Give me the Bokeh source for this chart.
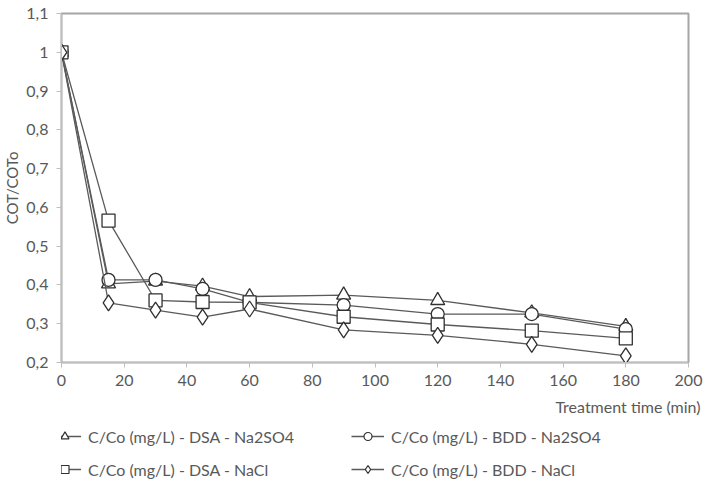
from bokeh.plotting import figure
from bokeh.layouts import column
from bokeh.models import Legend, LegendItem, FixedTicker, Range1d, Title
from bokeh.embed import file_html
from bokeh.resources import INLINE

# Treatment time (min)
time_min = [0, 15, 30, 45, 60, 90, 120, 150, 180]

# COT/COT0 for each electrode / electrolyte combination
dsa_na2so4 = [1.0, 0.403, 0.41, 0.397, 0.37, 0.374, 0.36, 0.328, 0.293]
bdd_na2so4 = [1.0, 0.413, 0.413, 0.39, 0.355, 0.348, 0.325, 0.325, 0.286]
dsa_nacl = [1.0, 0.566, 0.36, 0.356, 0.355, 0.318, 0.298, 0.282, 0.262]
bdd_nacl = [1.0, 0.354, 0.335, 0.317, 0.338, 0.284, 0.27, 0.247, 0.217]

series_labels = [
    "C/Co (mg/L) - DSA - Na2SO4",
    "C/Co (mg/L) - BDD - Na2SO4",
    "C/Co (mg/L) - DSA - NaCl",
    "C/Co (mg/L) - BDD - NaCl",
]

x_ticks = [0, 20, 40, 60, 80, 100, 120, 140, 160, 180, 200]
y_ticks = [0.2, 0.3, 0.4, 0.5, 0.6, 0.7, 0.8, 0.9, 1.0, 1.1]
y_tick_labels = ["0,2", "0,3", "0,4", "0,5", "0,6", "0,7", "0,8", "0,9", "1", "1,1"]

FONT = "Lato"
TEXT = "#595959"

p = figure(
    width=704, height=426,
    output_backend="svg", toolbar_location=None,
    x_range=Range1d(0, 200), y_range=Range1d(0.2, 1.1),
    min_border_left=60, min_border_right=16,
    min_border_top=13, min_border_bottom=64,
)
p.background_fill_color = "white"
p.border_fill_color = "white"
p.outline_line_color = "#a6a6a6"
p.outline_line_width = 2
p.xgrid.visible = False
p.ygrid.visible = False

# x axis
p.xaxis.ticker = FixedTicker(ticks=x_ticks)
p.xaxis.axis_line_color = "#bfbfbf"
p.xaxis.major_tick_line_color = "#bfbfbf"
p.xaxis.major_tick_out = 5
p.xaxis.major_tick_in = 0
p.xaxis.minor_tick_line_color = None
p.xaxis.major_label_text_font = FONT
p.xaxis.major_label_text_font_size = "16px"
p.xaxis.major_label_text_color = TEXT
p.xaxis.major_label_standoff = 7

# x axis title, right-aligned under the plot
x_title = Title(
    text="Treatment time (min)", align="right", offset=-12,
    text_font=FONT, text_font_size="16px", text_font_style="normal",
    text_color=TEXT, standoff=13,
)
p.add_layout(x_title, "below")

# y axis
p.yaxis.ticker = FixedTicker(ticks=y_ticks)
p.yaxis.major_label_overrides = dict(zip(y_ticks, y_tick_labels))
p.yaxis.axis_line_color = "#bfbfbf"
p.yaxis.major_tick_line_color = "#bfbfbf"
p.yaxis.major_tick_out = 5
p.yaxis.major_tick_in = 0
p.yaxis.minor_tick_line_color = None
p.yaxis.major_label_text_font = FONT
p.yaxis.major_label_text_font_size = "16px"
p.yaxis.major_label_text_color = TEXT
p.yaxis.major_label_standoff = 8
p.yaxis.axis_label = "COT/COTo"
p.yaxis.axis_label_text_font = FONT
p.yaxis.axis_label_text_font_size = "15px"
p.yaxis.axis_label_text_font_style = "normal"
p.yaxis.axis_label_text_color = TEXT
p.yaxis.axis_label_standoff = 2

LINE = "#5a5a5a"
MARK = "#303030"
series = [
    (dsa_na2so4, "triangle", 14),
    (bdd_na2so4, "circle", 13),
    (dsa_nacl, "square", 13),
    (bdd_nacl, "diamond", 16),
]

for (vals, marker, size) in series:
    p.line(time_min, vals, line_color=LINE, line_width=1.3)
    p.scatter(time_min, vals, marker=marker, size=size,
              fill_color="white", line_color=MARK, line_width=1.3)

# Legend strip underneath the chart: swatch renderers hold a single
# undefined point so only their legend glyphs are drawn
leg = figure(
    width=704, height=57,
    output_backend="svg", toolbar_location=None,
    x_axis_type=None, y_axis_type=None,
    x_range=Range1d(0, 1), y_range=Range1d(0, 1),
    min_border=0,
)
leg.outline_line_color = None
leg.xgrid.visible = False
leg.ygrid.visible = False

nan = float("nan")
items = []
for (vals, marker, size), label in zip(series, series_labels):
    ln = leg.line(x=[nan], y=[nan], line_color=LINE, line_width=1.3)
    sc = leg.scatter(x=[nan], y=[nan], marker=marker, size=size - 3,
                     fill_color="white", line_color=MARK, line_width=1.2)
    items.append(LegendItem(label=label, renderers=[ln, sc]))

legend = Legend(
    items=items, ncols=2, orientation="horizontal",
    location=(-13, 4),
    glyph_width=33, glyph_height=20,
    label_height=20, label_standoff=7,
    label_width=250, spacing=13,
    padding=0, margin=0,
    label_text_font=FONT, label_text_font_size="16px",
    label_text_color=TEXT,
    background_fill_alpha=0, border_line_color=None,
)
leg.add_layout(legend, "center")

open("out.html", "w").write(file_html(column(p, leg, spacing=0), INLINE))
